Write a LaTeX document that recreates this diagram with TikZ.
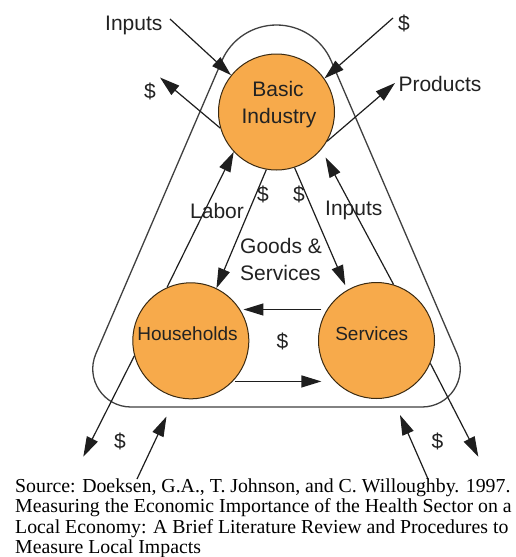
\documentclass[tikz,border=0pt]{standalone}
\usepackage{fontspec}
\setmainfont{Liberation Serif}
\newfontfamily\lblsans{Liberation Sans}
\usetikzlibrary{arrows.meta,calc}
\definecolor{orangefill}{HTML}{F7AA4B}
\definecolor{circborder}{HTML}{3A2A12}
\definecolor{inktext}{HTML}{222222}
\definecolor{inkline}{HTML}{1E1E1E}
\tikzset{
  circ/.style={circle, draw=circborder, fill=orangefill, minimum size=116pt, inner sep=0pt, line width=1pt},
  lbl/.style={font=\lblsans\fontsize{21}{25}\selectfont, text=inktext, inner sep=0pt, anchor=base west},
  lblc/.style={font=\lblsans\fontsize{21}{25}\selectfont, text=inktext, inner sep=0pt, anchor=base},
  circtxt/.style={font=\lblsans\fontsize{19}{23}\selectfont, text=inktext, inner sep=0pt, anchor=base},
  src/.style={font=\fontsize{19.8}{20.3}\selectfont, text=black, inner sep=0pt, anchor=base west},
  arr/.style={draw=inkline, line width=1.2pt, -{Triangle[length=20pt,width=12pt]}},
  outline/.style={draw=inkline!85, line width=1.3pt}
}
\begin{document}
\begin{tikzpicture}[x=1pt,y=-1pt]
\useasboundingbox[fill=white] (0,0) rectangle (516,557);

% rounded triangular boundary
\draw[outline] (221.8,60.9) .. controls (231.2,39.0) and (252.7,25) .. (276.5,25)
  .. controls (300.3,25) and (321.8,39.0) .. (331.2,60.9)
  -- (457.1,353.7) .. controls (468.0,379.0) and (449.5,407) .. (422,407)
  -- (131,407) .. controls (103.5,407) and (85.0,379.0) .. (95.9,353.7) -- cycle;

% circles
\node[circ] (BI) at (276.5,112) {};
\node[circ] (HH) at (190.8,340.8) {};
\node[circ] (SV) at (376.5,340.5) {};

% circle texts
\node[lblc] (tBasic) at (278,96.7) {Basic};
\node[lblc] (tIndustry) at (279,123.3) {Industry};
\node[circtxt] (tHouse) at (187.5,340.7) {Households};
\node[circtxt] (tServ) at (371.7,340.7) {Services};

% free ends
\coordinate (inTop) at (170,19);
\coordinate (dTop) at (393,18);
\coordinate (dLeft) at (160,77.5);
\coordinate (prodTip) at (395,83);
\coordinate (dBL) at (83.3,456.7);
\coordinate (dBR) at (478.3,456.7);
\coordinate (upBLs) at (137,479);
\coordinate (upBLt) at (166.5,416.5);
\coordinate (upBRs) at (428,479);
\coordinate (upBRt) at (400,415);

% arrows
\draw[arr] (inTop) -- (BI.141);
\draw[arr] (dTop) -- (BI.35);
\draw[arr] (BI.196) -- (dLeft);
\draw[arr] (BI.-30) -- (prodTip);
\draw[arr] (HH.114) -- (BI.223);
\draw[arr, shorten >=9pt] (SV.73) -- (BI.-40);
\draw[arr] (BI.260) -- (HH.64);
\draw[arr, shorten >=5pt] (BI.288) -- (SV.120);
\draw[arr, shorten <=5.5pt, shorten >=2pt] (SV.148) -- (SV.148 -| HH.30);
\draw[arr, shorten <=2.5pt, shorten >=9pt] (HH.-44) -- (HH.-44 -| SV.218);
\draw[arr] (HH.195) -- (dBL);
\draw[arr] (SV.-23) -- (dBR);
\draw[arr] (upBLs) -- (upBLt);
\draw[arr] (upBRs) -- (upBRt);

% labels
\node[lbl] (lInputsTop) at (105,30.5) {Inputs};
\node[lblc] (lDollarTop) at (404,30) {\$};
\node[lblc] (lDollarLeft) at (150,98.5) {\$};
\node[lbl] (lProducts) at (398.3,91.7) {Products};
\node[lbl] (lLabor) at (190,218.3) {Labor};
\node[lbl] (lInputsMid) at (325,215) {Inputs};
\node[lblc] (lDollarA) at (263,201.5) {\$};
\node[lblc] (lDollarB) at (299,201.5) {\$};
\node[lbl] (lGoods) at (240,253.3) {Goods \&};
\node[lbl] (lServices) at (240,280.7) {Services};
\node[lblc] (lDollarMid) at (282.5,348) {\$};
\node[lblc] (lDollarBL) at (120,448) {\$};
\node[lblc] (lDollarBR) at (437.5,448) {\$};

% source
\node[src] (src1) at (15,492.3) {Source: Doeksen, G.A., T. Johnson, and C. Willoughby. 1997.};
\node[src] (src2) at (15,512.8) {Measuring the Economic Importance of the Health Sector on a};
\node[src] (src3) at (15,533.1) {Local Economy: A Brief Literature Review and Procedures to};
\node[src] (src4) at (15,553.3) {Measure Local Impacts};
\end{tikzpicture}
\end{document}
